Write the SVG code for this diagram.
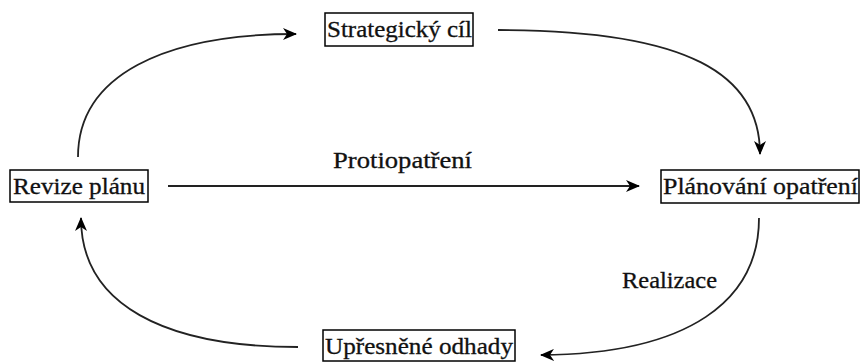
<svg xmlns="http://www.w3.org/2000/svg" width="862" height="363" viewBox="0 0 862 363">
<style>
.box{fill:#fff;stroke:#000;stroke-width:1.5}
.t{font-family:'Liberation Serif','Times New Roman',serif;font-size:23px;fill:#111;stroke:#111;stroke-width:0.3}
.c{fill:none;stroke:#222;stroke-width:1.8}
</style>
<defs>
<marker id="ah" viewBox="0 0 14 12" refX="13" refY="6" markerWidth="14" markerHeight="12" markerUnits="userSpaceOnUse" orient="auto">
<path d="M0,0 L14,6 L0,12 L4,6 Z" fill="#000"/>
</marker>
</defs>
<rect width="862" height="363" fill="#fff"/>
<g id="connectors">
<path class="c" d="M78,157 C78,75 165,34 296,34" marker-end="url(#ah)"/>
<path class="c" d="M498,30 C690,30 760,75 760,154" marker-end="url(#ah)"/>
<path class="c" d="M168,186 L639,186" marker-end="url(#ah)"/>
<path class="c" d="M759,218 C759,300 690,354 541,355" marker-end="url(#ah)"/>
<path class="c" d="M298,347 C165,347 81,305 81,218" marker-end="url(#ah)"/>
<text class="t" x="333" y="168" textLength="139" lengthAdjust="spacingAndGlyphs">Protiopatření</text>
<text class="t" x="622" y="288" textLength="95" lengthAdjust="spacingAndGlyphs">Realizace</text>
</g>
<g id="strategicky-cil">
<rect class="box" x="325" y="13" width="148" height="33"/>
<text class="t" x="327" y="37" textLength="145" lengthAdjust="spacingAndGlyphs">Strategický cíl</text>
</g>
<g id="revize-planu">
<rect class="box" x="10" y="170" width="138" height="32"/>
<text class="t" x="13" y="194" textLength="132" lengthAdjust="spacingAndGlyphs">Revize plánu</text>
</g>
<g id="planovani-opatreni">
<rect class="box" x="661" y="170" width="198" height="33"/>
<text class="t" x="663" y="194" textLength="195" lengthAdjust="spacingAndGlyphs">Plánování opatření</text>
</g>
<g id="upresnene-odhady">
<rect class="box" x="323" y="330" width="192" height="31"/>
<text class="t" x="325" y="354" textLength="188" lengthAdjust="spacingAndGlyphs">Upřesněné odhady</text>
</g>
</svg>
